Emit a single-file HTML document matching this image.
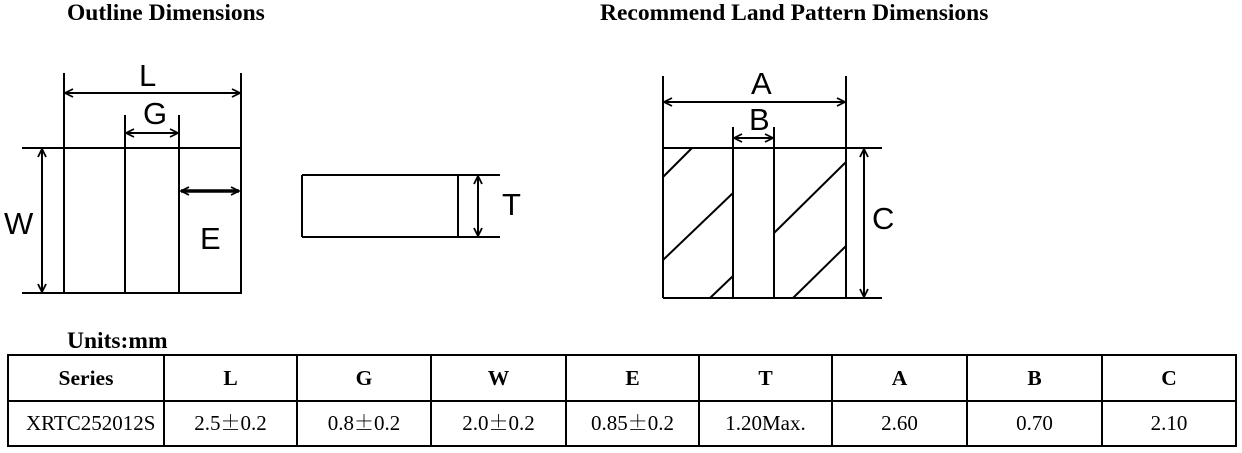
<!DOCTYPE html><html><head><style>
body{margin:0;width:1242px;height:453px;background:#fff;position:relative;overflow:hidden;font-family:"Liberation Serif",serif}
.h{position:absolute;font-weight:bold;font-size:23.5px;white-space:nowrap}
table{position:absolute;left:7px;top:354px;border-collapse:collapse;font-size:21.5px}
td{border:2px solid #000;text-align:center;padding:0;white-space:nowrap}
.p{font-family:"Noto Serif CJK SC","Noto Sans CJK SC",serif;font-size:20px;line-height:0}
tr.b td{font-size:21px;line-height:1}
</style></head><body>
<div class="h" style="left:67px;top:0px">Outline Dimensions</div>
<div class="h" style="left:600px;top:0px">Recommend Land Pattern Dimensions</div>
<div class="h" style="left:67px;top:328px">Units:mm</div>
<svg width="1242" height="453" style="position:absolute;left:0;top:0" stroke="#000" stroke-width="2" fill="none">
<defs><marker id="a" markerWidth="10" markerHeight="10" refX="9" refY="5" orient="auto-start-reverse" markerUnits="userSpaceOnUse"><path d="M1,1 L9,5 L1,9" stroke="#000" stroke-width="1.8" fill="none"/></marker></defs>
<g>
<line x1="64" y1="73" x2="64" y2="294"/><line x1="241" y1="73" x2="241" y2="294"/>
<line x1="125" y1="115" x2="125" y2="294"/><line x1="179" y1="115" x2="179" y2="294"/>
<line x1="22" y1="148" x2="241" y2="148"/><line x1="22" y1="293" x2="241" y2="293"/>
<line x1="65" y1="93" x2="240" y2="93" marker-start="url(#a)" marker-end="url(#a)"/>
<line x1="126" y1="133" x2="178" y2="133" marker-start="url(#a)" marker-end="url(#a)"/>
<line x1="42" y1="149" x2="42" y2="292" marker-start="url(#a)" marker-end="url(#a)"/>
<line x1="181" y1="191" x2="239" y2="191" stroke-width="3.5" marker-start="url(#a)" marker-end="url(#a)"/>
<line x1="302" y1="175" x2="500" y2="175"/><line x1="302" y1="237" x2="500" y2="237"/>
<line x1="302" y1="175" x2="302" y2="237"/><line x1="458" y1="175" x2="458" y2="237"/>
<line x1="478" y1="176" x2="478" y2="236" marker-start="url(#a)" marker-end="url(#a)"/>
<line x1="663" y1="76" x2="663" y2="298"/><line x1="846" y1="76" x2="846" y2="298"/>
<line x1="733" y1="127" x2="733" y2="298"/><line x1="774" y1="127" x2="774" y2="298"/>
<line x1="663" y1="148" x2="882" y2="148"/><line x1="663" y1="298" x2="882" y2="298"/>
<line x1="664" y1="102" x2="845" y2="102" marker-start="url(#a)" marker-end="url(#a)"/>
<line x1="734" y1="138" x2="773" y2="138" marker-start="url(#a)" marker-end="url(#a)"/>
<line x1="864" y1="149" x2="864" y2="297" marker-start="url(#a)" marker-end="url(#a)"/>
<line x1="663" y1="177" x2="692" y2="148"/><line x1="663" y1="260" x2="733" y2="193"/><line x1="710" y1="298" x2="733" y2="276"/>
<line x1="774" y1="233" x2="846" y2="162"/><line x1="793" y1="298" x2="846" y2="246"/>
</g>
<g fill="#000" stroke="none" font-family="Liberation Sans,sans-serif" font-size="31">
<text x="139" y="86">L</text><text x="143" y="124">G</text><text x="4" y="234">W</text><text x="200" y="249">E</text><text x="502" y="215">T</text>
<text x="751" y="94">A</text><text x="749" y="130">B</text><text x="872" y="229">C</text>
</g></svg>
<table><tr style="height:46px;font-weight:bold"><td style="width:154px">Series</td><td style="width:131px">L</td><td style="width:132px">G</td><td style="width:133px">W</td><td style="width:131px">E</td><td style="width:131px">T</td><td style="width:133px">A</td><td style="width:133px">B</td><td style="width:132px">C</td></tr>
<tr class="b" style="height:45px"><td style="text-align:left;padding-left:17px">XRTC252012S</td><td>2.5<span class="p">±</span>0.2</td><td>0.8<span class="p">±</span>0.2</td><td>2.0<span class="p">±</span>0.2</td><td>0.85<span class="p">±</span>0.2</td><td>1.20Max.</td><td>2.60</td><td>0.70</td><td>2.10</td></tr></table>
</body></html>
